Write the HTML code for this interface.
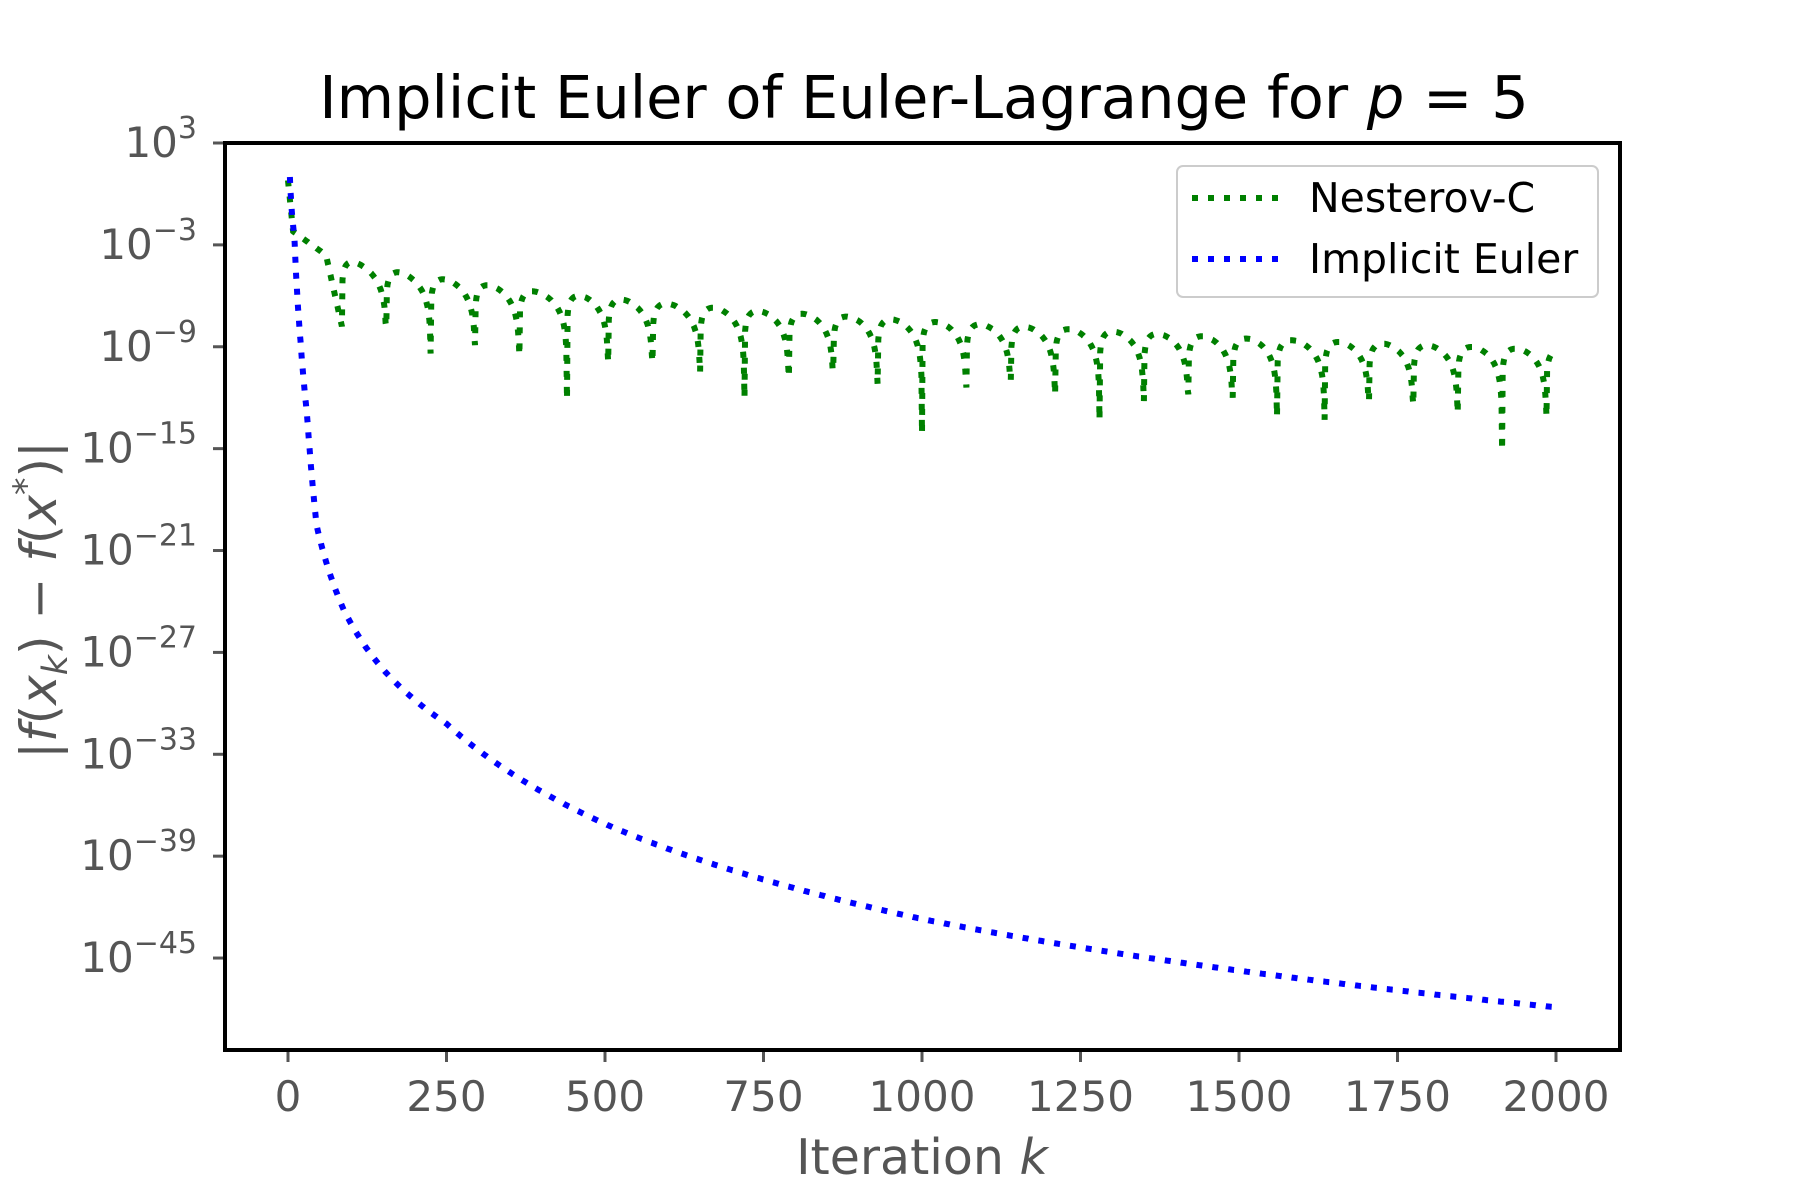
<!DOCTYPE html>
<html><head><meta charset="utf-8"><style>
html,body{margin:0;padding:0;background:#fff;}
svg{display:block;font-family:"DejaVu Sans","Liberation Sans",sans-serif;}
</style></head><body>
<svg id="s" width="1800" height="1200" xmlns="http://www.w3.org/2000/svg">
<rect width="1800" height="1200" fill="#fff"/>
<text x="924" y="118" font-size="59" text-anchor="middle" fill="#000">Implicit Euler of Euler-Lagrange for <tspan font-style="italic">p</tspan> = 5</text>
<g id="ticks"></g>
<clipPath id="c"><rect x="225" y="143" width="1395" height="907"/></clipPath>
<g clip-path="url(#c)">
<path id="nes" fill="none" stroke="#008000" stroke-width="6" stroke-dasharray="6 10"/>
<path id="imp" fill="none" stroke="#0000ff" stroke-width="6" stroke-dasharray="6 10"/>
</g>
<rect x="225" y="143" width="1395" height="907" fill="none" stroke="#000" stroke-width="4"/>
<text x="922" y="1174" font-size="49" text-anchor="middle" fill="#555">Iteration <tspan font-style="italic">k</tspan></text>
<text transform="translate(56,600) rotate(-90)" font-size="50" text-anchor="middle" fill="#555"><tspan>|</tspan><tspan font-style="italic">f</tspan>(<tspan font-style="italic">x</tspan><tspan font-style="italic" font-size="35" dy="11">k</tspan><tspan dy="-11">) − </tspan><tspan font-style="italic">f</tspan>(<tspan font-style="italic">x</tspan><tspan font-size="35" dy="-18">*</tspan><tspan dy="18">)|</tspan></text>
<rect x="1177" y="166" width="421" height="131" rx="6" fill="#fff" stroke="#ccc" stroke-width="2"/>
<line x1="1192" y1="198" x2="1280" y2="198" stroke="#008000" stroke-width="6" stroke-dasharray="6 10"/>
<line x1="1192" y1="259" x2="1280" y2="259" stroke="#0000ff" stroke-width="6" stroke-dasharray="6 10"/>
<text x="1309" y="212" font-size="41" fill="#000">Nesterov-C</text>
<text x="1309" y="273" font-size="41" fill="#000">Implicit Euler</text>
</svg>
<script>
var X=function(k){return 288+k*0.634;}, Y=function(l){return 143+(3-l)*16.98;};
var g=document.getElementById('ticks'),h='';
for(var k=0;k<=2000;k+=250){var x=X(k);h+='<line x1="'+x+'" y1="1050" x2="'+x+'" y2="1062" stroke="#555" stroke-width="3"/><text x="'+x+'" y="1111" font-size="42" text-anchor="middle" fill="#555">'+k+'</text>';}
for(var e=3;e>=-45;e-=6){var y=Y(e);h+='<line x1="213" y1="'+y+'" x2="225" y2="'+y+'" stroke="#555" stroke-width="3"/><text x="197" y="'+(y+14)+'" font-size="42" text-anchor="end" fill="#555">10<tspan font-size="30" dy="-19">'+(e<0?'−'+(-e):e)+'</tspan></text>';}
g.innerHTML=h;
function interp(pts,v){if(v<=pts[0][0])return pts[0][1];for(var i=1;i<pts.length;i++){if(v<=pts[i][0]){var a=pts[i-1],b=pts[i];return a[1]+(b[1]-a[1])*(v-a[0])/(b[0]-a[0]);}}return pts[pts.length-1][1];}
var env=[[0,0.8],[10,-2.2],[50,-3.4],[120,-4.2],[200,-4.8],[400,-5.8],[700,-6.8],[1000,-7.5],[1500,-8.5],[2000,-9.2]];
var dips=[[85,-7.8],[155,-7.8],[225,-9.4],[295,-8.9],[365,-9.5],[440,-12.1],[505,-9.9],[575,-9.9],[650,-10.5],[720,-12],[790,-10.8],[860,-10.4],[930,-11.2],[1000,-14.1],[1070,-11.4],[1140,-11],[1210,-11.8],[1280,-13.3],[1350,-12.2],[1420,-11.8],[1490,-12],[1560,-13.1],[1635,-13.3],[1705,-12.2],[1775,-12.4],[1845,-12.9],[1915,-15.1],[1985,-13.1],[2055,-13]];
var d='';
for(var k=0;k<=2000;k++){var l=interp(env,k);
 if(k<85){l=interp([[0,0.8],[8,-2.2],[30,-2.8],[60,-3.6],[85,-7.8]],k);}
 else{for(var i=0;i<dips.length-1;i++){if(k>=dips[i][0]&&k<dips[i+1][0]){var a=dips[i][0],b=dips[i+1][0];var s=(k-a)/(b-a);
   var sh=Math.pow(s,0.6);var v=2*Math.log10(Math.max(Math.sin(Math.PI*sh),1e-9));
   var fl=(s<0.5?dips[i][1]:dips[i+1][1])-l;v=Math.max(v,fl);l=l+v;break;}}}
 d+=(k?'L':'M')+X(k).toFixed(1)+' '+Y(l).toFixed(1);}
document.getElementById('nes').setAttribute('d',d);
var ip=[[Math.log10(3),1],[Math.log10(10),-2.5],[Math.log10(20),-8.8],[Math.log10(30),-13],[Math.log10(45),-19.5],[Math.log10(88),-24.5],[Math.log10(150),-28],[Math.log10(250),-31.2],[Math.log10(500),-37.1],[Math.log10(1000),-42.7],[Math.log10(2000),-47.9]];
d='';for(var k=3;k<=2000;k+=(k<60?0.5:2)){d+=(k>3?'L':'M')+X(k).toFixed(1)+' '+Y(interp(ip,Math.log10(k))).toFixed(1);}
document.getElementById('imp').setAttribute('d',d);
</script>
</body></html>
